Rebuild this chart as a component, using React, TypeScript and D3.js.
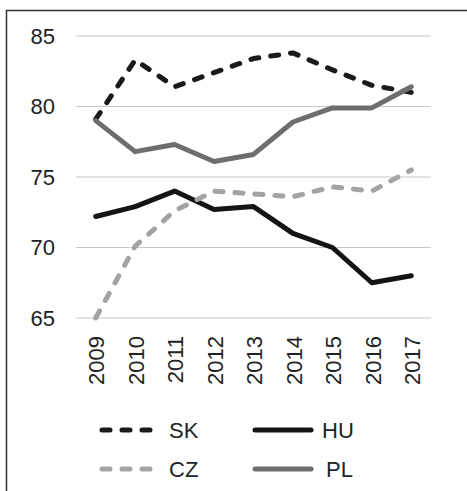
import React, { useEffect, useRef } from "react";
import * as d3 from "d3";

// values
const years = ["2009", "2010", "2011", "2012", "2013", "2014", "2015", "2016", "2017"];
const skValues = [79.1, 83.3, 81.4, 82.4, 83.4, 83.8, 82.6, 81.5, 81.0];
const huValues = [72.2, 72.9, 74.0, 72.7, 72.9, 71.0, 70.0, 67.5, 68.0];
const czValues = [65.0, 70.1, 72.6, 74.0, 73.8, 73.6, 74.3, 74.0, 75.5];
const plValues = [79.0, 76.8, 77.3, 76.1, 76.6, 78.9, 79.9, 79.9, 81.4];
const yTicks = [65, 70, 75, 80, 85];

const series = [
  { name: "SK", values: skValues, color: "#1a1a1a", dash: "8,12" },
  { name: "HU", values: huValues, color: "#141414", dash: null },
  { name: "CZ", values: czValues, color: "#a3a3a3", dash: "8,12" },
  { name: "PL", values: plValues, color: "#6e6e6e", dash: null },
];

export default function App() {
  const ref = useRef<SVGSVGElement>(null);

  useEffect(() => {
    const svg = d3.select(ref.current);
    svg.selectAll("*").remove();
    const font = "Arial, 'Liberation Sans', sans-serif";

    // frame (only top and left edges are visible)
    svg.append("rect")
      .attr("x", 6.5).attr("y", 10.5)
      .attr("width", 600).attr("height", 600)
      .attr("fill", "none").attr("stroke", "#333").attr("stroke-width", 1.5);

    const x = d3.scaleBand().domain(years).range([76, 431]);
    const y = d3.scaleLinear().domain([65, 85]).range([318, 36]);

    // gridlines
    svg.append("g").selectAll("line").data(yTicks).enter()
      .append("line")
      .attr("x1", 76).attr("x2", 431)
      .attr("y1", (d) => y(d)).attr("y2", (d) => y(d))
      .attr("stroke", "#c8c8c8").attr("stroke-width", 1.2);

    // y labels
    svg.append("g").selectAll("text").data(yTicks).enter()
      .append("text")
      .attr("x", 55).attr("y", (d) => y(d))
      .attr("dy", "0.35em")
      .attr("text-anchor", "end")
      .style("font-family", font).style("font-size", "22px").attr("fill", "#222")
      .text((d) => d);

    // x labels, rotated
    svg.append("g").selectAll("text").data(years).enter()
      .append("text")
      .attr("transform", (d) => `translate(${x(d)! + x.bandwidth() / 2 + 1}, 336) rotate(-90)`)
      .attr("dy", "0.35em")
      .attr("text-anchor", "end")
      .style("font-family", font).style("font-size", "22px").attr("fill", "#222")
      .text((d) => d);

    const line = d3.line<number>()
      .x((_, i) => x(years[i])! + x.bandwidth() / 2)
      .y((d) => y(d));

    // series order: later ones on top
    series.forEach((s) => {
      svg.append("path")
        .datum(s.values)
        .attr("d", line)
        .attr("fill", "none")
        .attr("stroke", s.color)
        .attr("stroke-width", 5)
        .attr("stroke-linecap", "round")
        .attr("stroke-linejoin", "round")
        .attr("stroke-dasharray", s.dash ?? null);
    });

    // legend
    const legendPos = [
      { x: 102, y: 430 },
      { x: 255, y: 430 },
      { x: 102, y: 469 },
      { x: 255, y: 469 },
    ];
    series.forEach((s, i) => {
      const p = legendPos[i];
      svg.append("line")
        .attr("x1", p.x).attr("x2", p.x + 56)
        .attr("y1", p.y).attr("y2", p.y)
        .attr("stroke", s.color).attr("stroke-width", 5)
        .attr("stroke-linecap", "round")
        .attr("stroke-dasharray", s.dash ?? null);
      svg.append("text")
        .attr("x", p.x + (i === 3 ? 71 : 67)).attr("y", p.y)
        .attr("dy", "0.35em")
        .style("font-family", font).style("font-size", "22px").attr("fill", "#222")
        .text(s.name);
    });
  }, []);

  return (
    <svg
      ref={ref}
      width={467}
      height={491}
      style={{ position: "absolute", left: 0, top: 0, background: "#fff" }}
    />
  );
}
